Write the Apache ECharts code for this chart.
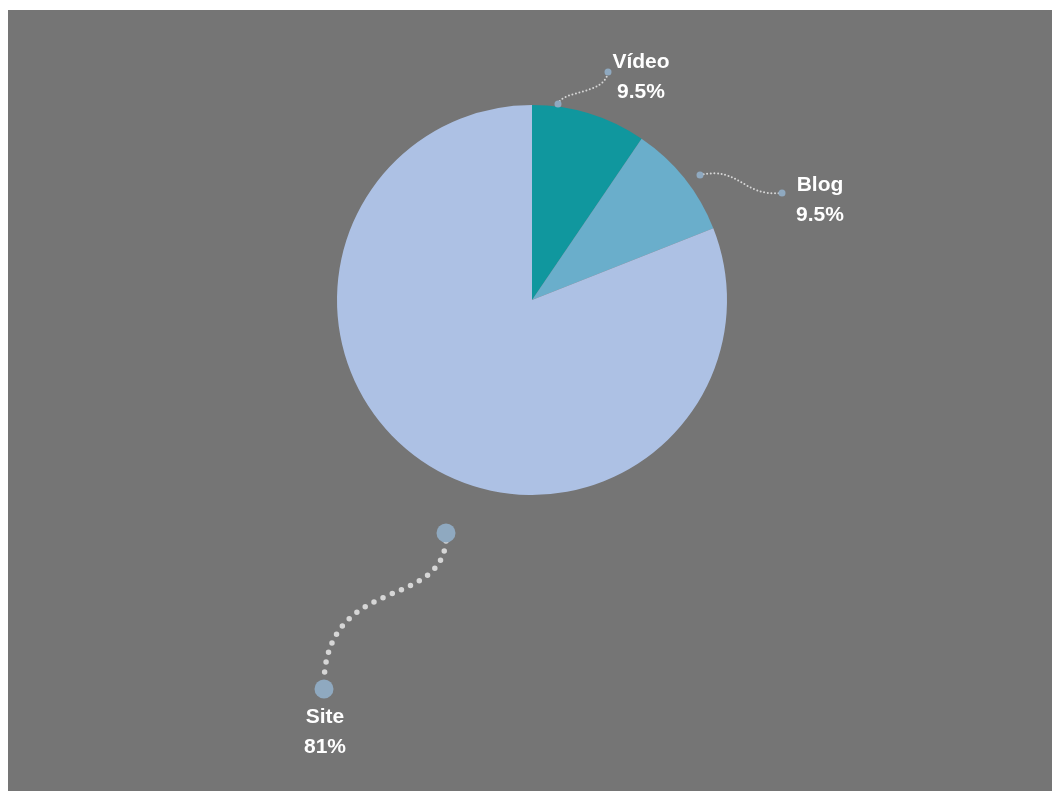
<!DOCTYPE html>
<html>
<head>
<meta charset="utf-8">
<style>
  html, body { margin: 0; padding: 0; background: #ffffff; }
  #chart { width: 1052px; height: 791px; }
</style>
<script src="https://cdn.jsdelivr.net/npm/echarts@6/dist/echarts.min.js"></script>
</head>
<body>
<div id="chart"></div>
<script>
// Traffic share by channel
const categories = ['Vídeo', 'Blog', 'Site'];
const shares = [9.5, 9.5, 81];
const sliceColors = ['#10979e', '#6aaecb', '#adc1e4'];

// Where each label block sits (center of the two-line text)
const labelPos = [[641, 77], [820, 200], [325, 732]];

// Dotted S-shaped leaders with a dot at each end
const leaders = [
  { p0: [558, 104], c1: [562, 90], c2: [605, 95], p3: [608, 72], r: 3.5, w: 2, gap: 3.6 },
  { p0: [700, 175], c1: [740, 166], c2: [742, 197], p3: [782, 193], r: 3.5, w: 2, gap: 3.6 },
  { p0: [446, 541], c1: [440, 610], c2: [328, 575], p3: [324, 681], r: 9.5, w: 5.5, gap: 10, dots: [[446, 533], [324, 689]] }
];

const graphics = [{
  type: 'rect', z: -10, silent: true,
  shape: { x: 8, y: 10, width: 1044, height: 781 },
  style: { fill: '#757575' }
}];
leaders.forEach(function (l) {
  graphics.push({
    type: 'bezierCurve', z: 5, silent: true,
    shape: { x1: l.p0[0], y1: l.p0[1], cpx1: l.c1[0], cpy1: l.c1[1], cpx2: l.c2[0], cpy2: l.c2[1], x2: l.p3[0], y2: l.p3[1] },
    style: { stroke: '#d6d6d6', lineWidth: l.w, lineDash: [0, l.gap], lineCap: 'round', fill: null }
  });
  const ends = l.dots || [l.p0, l.p3];
  ends.forEach(function (d) {
    graphics.push({
      type: 'circle', z: 6, silent: true,
      shape: { cx: d[0], cy: d[1], r: l.r },
      style: { fill: '#8fa9c0' }
    });
  });
});

const chart = echarts.init(document.getElementById('chart'), null, { renderer: 'canvas' });
chart.setOption({
  animation: false,
  backgroundColor: 'transparent',
  graphic: graphics,
  series: [{
    type: 'pie',
    center: [532, 300],
    radius: 195,
    startAngle: 90,
    clockwise: true,
    silent: true,
    itemStyle: { borderWidth: 0 },
    label: {
      show: true,
      formatter: function (p) { return p.name + '\n' + String(p.value) + '%'; },
      color: '#ffffff',
      fontWeight: 'bold',
      fontSize: 21,
      lineHeight: 30,
      fontFamily: '"Liberation Sans", Arial, sans-serif'
    },
    labelLine: { show: false },
    labelLayout: function (params) {
      const p = labelPos[params.dataIndex];
      return { x: p[0], y: p[1], align: 'center', verticalAlign: 'middle' };
    },
    data: categories.map(function (name, i) {
      return { name: name, value: shares[i], itemStyle: { color: sliceColors[i] } };
    })
  }]
});
</script>
</body>
</html>
